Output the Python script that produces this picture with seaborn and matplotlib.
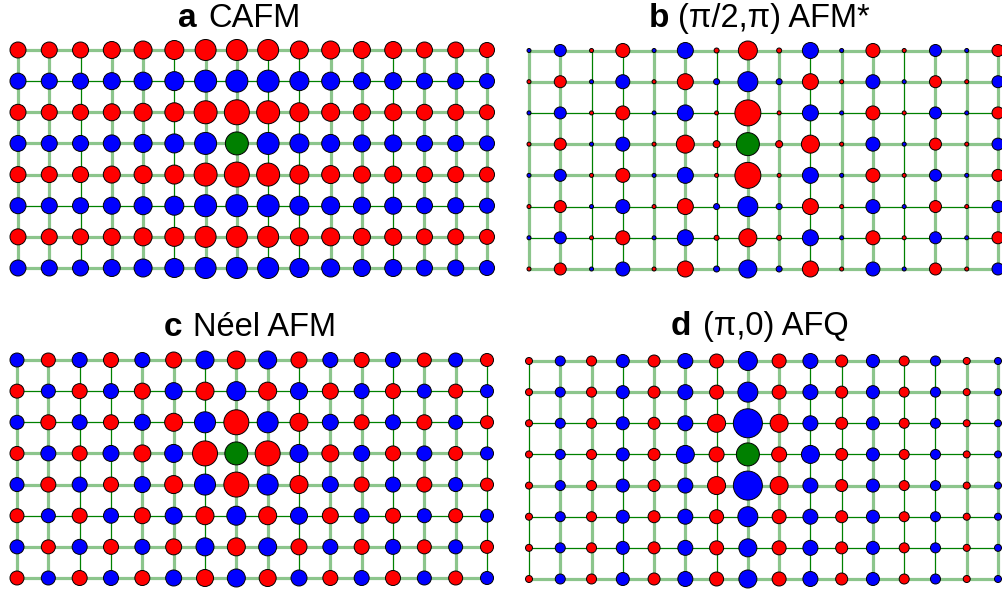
import numpy as np
import pandas as pd
import seaborn as sns
from matplotlib import pyplot as plt

sns.set_theme(style="white")
plt.rcParams['font.family'] = ['Liberation Sans', 'DejaVu Sans']
plt.rcParams['text.color'] = 'black'

# spin correlations around the reference site, signed (+ red, - blue),
# magnitude read off as circle diameter in pixels
REF_ROW, REF_COL = 3, 7

CAFM = [
    [16, 16, 16, 17, 18, 19, 21, 21, 21, 18, 18, 17, 17, 16, 16, 15],
    [-16, -16, -16, -17, -18, -19, -22, -22, -22, -19, -18, -17, -17, -16, -16, -15],
    [16, 16, 16, 17, 18, 19, 23, 25, 23, 19, 18, 17, 17, 16, 16, 15],
    [-16, -16, -16, -17, -18, -19, -22, 23, -22, -19, -18, -17, -17, -16, -16, -15],
    [16, 16, 16, 17, 18, 19, 23, 25, 23, 19, 18, 17, 17, 16, 16, 15],
    [-16, -16, -16, -17, -18, -19, -22, -22, -22, -19, -18, -17, -17, -16, -16, -15],
    [16, 16, 16, 17, 18, 19, 21, 21, 21, 18, 18, 17, 17, 16, 16, 15],
    [-16, -16, -16, -17, -18, -19, -21, -21, -21, -19, -18, -17, -17, -16, -16, -15],
]

AFM_STAR = [
    [-4, -12, 4, 14, -4, -16, 5, 19, 5, -16, -4, 14, 4, -12, -4, 12],
    [4, 12, -4, -14, 4, 16, -6, -20, -6, 16, 4, -14, -4, 12, 4, -12],
    [-4, -12, 4, 14, -4, -16, 4, 26, 4, -16, -4, 14, 4, -12, -4, 12],
    [4, 12, -4, -14, 4, 18, 7, 23, 7, 18, 4, -14, -4, 12, 4, -12],
    [-4, -12, 4, 14, -4, -16, 4, 26, 4, -16, -4, 14, 4, -12, -4, 12],
    [4, 12, -4, -14, 4, 16, -6, -20, -6, 16, 4, -14, -4, 12, 4, -12],
    [-4, -12, 4, 14, -4, -16, 5, 18, 5, -16, -4, 14, 4, -12, -4, 12],
    [4, 12, -4, -14, 4, 16, -6, -18, -6, 16, 4, -14, -4, 12, 4, -12],
]

NEEL = [
    [-14, 14, -15, 15, -15, 16, -18, 18, -18, 16, -15, 15, -15, 14, -14, 13],
    [14, -14, 15, -15, 16, -17, 18, -19, 18, -17, 16, -15, 15, -14, 14, -13],
    [-14, 15, -15, 15, -16, 18, -21, 25, -21, 18, -16, 15, -15, 15, -14, 13],
    [14, -15, 15, -16, 17, -18, 25, 23, 25, -18, 17, -16, 15, -15, 14, -13],
    [-14, 15, -15, 15, -16, 18, -21, 25, -21, 18, -16, 15, -15, 15, -14, 13],
    [14, -14, 15, -15, 16, -17, 18, -19, 18, -17, 16, -15, 15, -14, 14, -13],
    [-14, 14, -15, 15, -15, 16, -18, 18, -18, 16, -15, 15, -15, 14, -14, 13],
    [14, -14, 15, -15, 15, -16, 17, -18, 17, -16, 15, -15, 15, -14, 14, -13],
]

AFQ = [
    [7, -10, 10, -13, 12, -15, 14, -19, 14, -15, 12, -13, 10, -10, 7, -7],
    [7, -10, 10, -13, 12, -15, 14, -20, 14, -15, 12, -13, 10, -10, 7, -7],
    [7, -10, 10, -13, 12, -15, 18, -29, 18, -15, 12, -13, 10, -10, 7, -7],
    [7, -10, 10, -13, 12, -18, 15, 23, 15, -18, 12, -13, 10, -10, 7, -7],
    [7, -10, 10, -13, 12, -15, 18, -29, 18, -15, 12, -13, 10, -10, 7, -7],
    [7, -10, 10, -13, 12, -15, 14, -20, 14, -15, 12, -13, 10, -10, 7, -7],
    [7, -10, 10, -13, 12, -15, 14, -18, 14, -15, 12, -13, 10, -10, 7, -7],
    [7, -10, 10, -13, 12, -15, 14, -18, 14, -15, 12, -13, 10, -10, 7, -7],
]

# strong (1) / weak (0) bonds: horizontal per row, vertical per column
CAFM_H = [1, 0, 1, 1, 1, 0, 1, 1]
CAFM_V = [1, 1, 0, 1, 1, 0, 1, 1, 0, 0, 1, 1, 0, 1, 1, 1]
AFM_STAR_H = [1, 1, 0, 1, 1, 0, 0, 1]
AFM_STAR_V = [1, 1, 0, 0, 1, 1, 0, 1, 1, 0, 1, 1, 0, 1, 1, 1]
NEEL_H = [1, 0, 0, 1, 1, 0, 1, 1]
NEEL_V = [1, 1, 0, 0, 1, 1, 0, 1, 1, 0, 1, 1, 0, 1, 1, 0]
AFQ_H = [1, 1, 0, 0, 1, 0, 0, 1]
AFQ_V = [0, 1, 1, 0, 1, 1, 0, 1, 1, 0, 0, 1, 0, 0, 1, 1]

letters = ['a', 'b', 'c', 'd']
titles = ['CAFM', '(\u03c0/2,\u03c0) AFM*', 'N\u00e9el AFM', '(\u03c0,0) AFQ']
tables = [CAFM, AFM_STAR, NEEL, AFQ]
hbonds = [CAFM_H, AFM_STAR_H, NEEL_H, AFQ_H]
vbonds = [CAFM_V, AFM_STAR_V, NEEL_V, AFQ_V]

W, H = 1002, 598
# pixel positions: first col x, last col x, first row y, last row y,
# letter right edge, title left edge, title baseline
frames = [
    (18, 487, 50, 268, 197, 208, 27),
    (529, 998, 50.5, 269, 669, 678, 27),
    (17, 487, 360, 578, 182, 193, 336),
    (529, 998, 361, 579, 691, 703, 335),
]

palette = {'pos': '#ff0000', 'neg': '#0000ff', 'ref': '#008000'}
px = 72.0 / 100  # points per pixel

fig = plt.figure(figsize=(W / 100, H / 100), dpi=100)

for k in range(4):
    x0, x15, y0, y7, lx, tx, ty = frames[k]
    m = 0.6
    sx = (x15 - x0) / 15.0
    sy = (y7 - y0) / 7.0
    left = x0 - m * sx
    right = x15 + m * sx
    top = y0 - m * sy
    bottom = y7 + m * sy
    ax = fig.add_axes([left / W, 1 - bottom / H, (right - left) / W, (bottom - top) / H])

    vals = np.array(tables[k], dtype=float)
    nrow, ncol = vals.shape
    rr, cc = np.meshgrid(np.arange(nrow), np.arange(ncol), indexing='ij')
    df = pd.DataFrame({'row': rr.ravel(), 'col': cc.ravel(), 'v': vals.ravel()})
    df['kind'] = np.where(df['v'] > 0, 'pos', 'neg')
    df.loc[(df['row'] == REF_ROW) & (df['col'] == REF_COL), 'kind'] = 'ref'
    df['area'] = (df['v'].abs() * px) ** 2

    # bonds
    for r in range(nrow):
        if hbonds[k][r]:
            ax.plot([0, ncol - 1], [r, r], color='#008000', alpha=0.45, lw=2.3, zorder=1,
                    solid_capstyle='butt')
        else:
            ax.plot([0, ncol - 1], [r, r], color='#008000', lw=0.9, zorder=1)
    for c in range(ncol):
        if vbonds[k][c]:
            ax.plot([c, c], [0, nrow - 1], color='#008000', alpha=0.45, lw=2.3, zorder=1,
                    solid_capstyle='butt')
        else:
            ax.plot([c, c], [0, nrow - 1], color='#008000', lw=0.9, zorder=1)

    sns.scatterplot(data=df, x='col', y='row', hue='kind', palette=palette,
                    s=df['area'].to_numpy(), edgecolor='black', linewidth=0.7,
                    legend=False, ax=ax, zorder=3)

    ax.set_xlim(-m, ncol - 1 + m)
    ax.set_ylim(nrow - 1 + m, -m)
    ax.axis('off')

    fig.text(lx / W, 1 - ty / H, letters[k], fontsize=24, fontweight='bold',
             color='black', ha='right', va='baseline')
    fig.text(tx / W, 1 - ty / H, titles[k], fontsize=23.5, color='black',
             ha='left', va='baseline')

fig.savefig('out.png', dpi=100)
